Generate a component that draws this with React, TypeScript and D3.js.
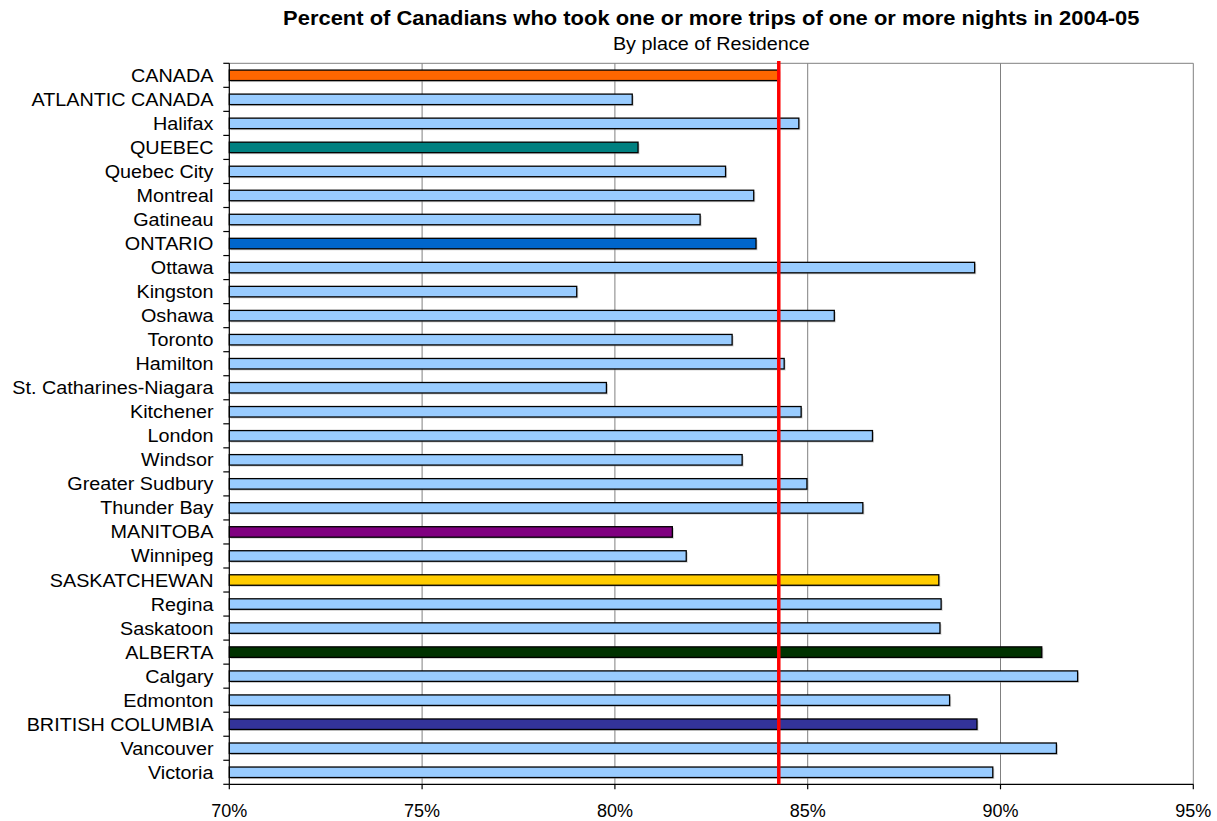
import React from "react";
import * as d3 from "d3";

// Share of residents taking at least one overnight trip, 2004-05
const categories = [
  "CANADA", "ATLANTIC CANADA", "Halifax", "QUEBEC", "Quebec City", "Montreal", "Gatineau",
  "ONTARIO", "Ottawa", "Kingston", "Oshawa", "Toronto", "Hamilton", "St. Catharines-Niagara",
  "Kitchener", "London", "Windsor", "Greater Sudbury", "Thunder Bay", "MANITOBA", "Winnipeg",
  "SASKATCHEWAN", "Regina", "Saskatoon", "ALBERTA", "Calgary", "Edmonton",
  "BRITISH COLUMBIA", "Vancouver", "Victoria",
];

const values = [
  84.25, 80.45, 84.77, 80.6, 82.87, 83.6, 82.21,
  83.66, 89.33, 79.01, 85.69, 83.04, 84.39, 79.78,
  84.83, 86.68, 83.3, 84.98, 86.43, 81.49, 81.85,
  88.4, 88.46, 88.43, 91.07, 92.0, 88.68,
  89.39, 91.45, 89.8,
];

// Regional totals get their own fill; cities use the default blue
const regionColors: Record<string, string> = {
  "CANADA": "#FF6600",
  "QUEBEC": "#008080",
  "ONTARIO": "#0066CC",
  "MANITOBA": "#800080",
  "SASKATCHEWAN": "#FFCC00",
  "ALBERTA": "#003300",
  "BRITISH COLUMBIA": "#333399",
};
const cityColor = "#99CCFF";

const xTicks = [70, 75, 80, 85, 90, 95];
const xTickLabels = ["70%", "75%", "80%", "85%", "90%", "95%"];
const nationalAverage = 84.25;

const title = "Percent of Canadians who took one or more trips of one or more nights in 2004-05";
const subtitle = "By place of Residence";

export default function App() {
  const width = 1217;
  const height = 821;
  const left = 229.3;
  const right = 1193.3;
  const top = 63.3;
  const bottom = 784.3;

  const x = d3.scaleLinear().domain([70, 95]).range([left, right]);
  const y = d3.scaleBand<string>().domain(categories).range([top, bottom]).padding(0);
  const bw = y.bandwidth();
  const barH = 10.5;
  const font = "'Liberation Sans', Arial, Helvetica, sans-serif";
  const sx = 1.07;
  const cx = (left + right) / 2;

  const boundaries = d3.range(categories.length + 1).map((i) => top + i * bw);

  return (
    <div style={{ position: "fixed", left: 0, top: 0 }}>
      <svg width={width} height={height} style={{ display: "block", background: "#fff" }}>
        <rect x={0} y={0} width={width} height={height} fill="#fff" />

        <text
          transform={`translate(${cx},25) scale(${sx},1)`}
          textAnchor="middle"
          fontFamily={font}
          fontSize={20.5}
          fontWeight="bold"
          fill="#000"
        >
          {title}
        </text>
        <text
          transform={`translate(${cx},49.5) scale(${sx},1)`}
          textAnchor="middle"
          fontFamily={font}
          fontSize={18.5}
          fill="#000"
        >
          {subtitle}
        </text>

        {/* vertical gridlines */}
        {xTicks.slice(1, -1).map((t) => (
          <line key={`g${t}`} x1={x(t)} x2={x(t)} y1={top} y2={bottom} stroke="#808080" strokeWidth={1} />
        ))}

        {/* plot frame: top and right in grey */}
        <line x1={left} x2={right} y1={top} y2={top} stroke="#808080" strokeWidth={1} />
        <line x1={right} x2={right} y1={top} y2={bottom} stroke="#808080" strokeWidth={1} />

        {/* bars with soft drop shadow */}
        {categories.map((c, i) => {
          const yc = (y(c) as number) + bw / 2;
          const w = x(values[i]) - x(70);
          return (
            <g key={c}>
              <rect
                x={x(70) + 1.5}
                y={yc - barH / 2 + 1.5}
                width={w}
                height={barH}
                fill="#999"
                opacity={0.45}
              />
              <rect
                x={x(70)}
                y={yc - barH / 2}
                width={w}
                height={barH}
                fill={regionColors[c] ?? cityColor}
                stroke="#000"
                strokeWidth={1.3}
              />
            </g>
          );
        })}

        {/* axes */}
        <line x1={left} x2={left} y1={top} y2={bottom} stroke="#000" strokeWidth={1.2} />
        <line x1={left} x2={right} y1={bottom} y2={bottom} stroke="#000" strokeWidth={1.2} />
        {boundaries.map((b, i) => (
          <line key={`yt${i}`} x1={left - 6} x2={left} y1={b} y2={b} stroke="#000" strokeWidth={1.2} />
        ))}
        {xTicks.map((t) => (
          <line key={`xt${t}`} x1={x(t)} x2={x(t)} y1={bottom} y2={bottom + 5} stroke="#000" strokeWidth={1.2} />
        ))}

        {/* category labels */}
        {categories.map((c) => (
          <text
            key={`l${c}`}
            transform={`translate(213.5,${(y(c) as number) + bw / 2 + 6.5}) scale(${sx},1)`}
            textAnchor="end"
            fontFamily={font}
            fontSize={18.5}
            fill="#000"
          >
            {c}
          </text>
        ))}

        {/* x tick labels */}
        {xTicks.map((t, i) => (
          <text
            key={`xl${t}`}
            x={x(t)}
            y={817}
            textAnchor="middle"
            fontFamily={font}
            fontSize={18}
            fill="#000"
          >
            {xTickLabels[i]}
          </text>
        ))}

        {/* national average reference line */}
        <line
          x1={x(nationalAverage)}
          x2={x(nationalAverage)}
          y1={61}
          y2={bottom}
          stroke="#FF0000"
          strokeWidth={3.5}
        />
      </svg>
    </div>
  );
}
